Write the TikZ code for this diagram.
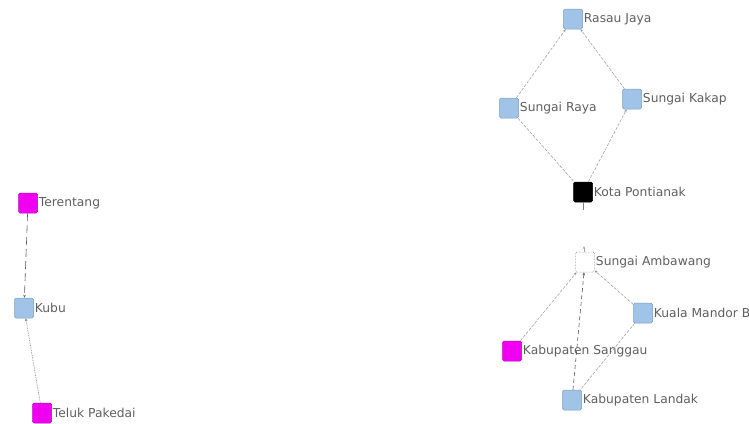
\documentclass[tikz,border=0pt]{standalone}
\usepackage{fontspec}
\setmainfont{DejaVu Sans}
\usetikzlibrary{arrows.meta}
\definecolor{nodeblue}{RGB}{160,196,232}
\definecolor{nodeedge}{RGB}{70,90,120}
\definecolor{nodemagenta}{RGB}{240,0,240}
\definecolor{labelgray}{RGB}{95,95,95}
\definecolor{linkgray}{RGB}{150,150,150}

\tikzset{
  town/.style={minimum width=19pt, minimum height=20pt, inner sep=0pt,
    rounded corners=1.5pt, fill=nodeblue, draw=nodeblue!60!nodeedge, line width=0.5pt},
  kab/.style={town, fill=nodemagenta, draw=nodemagenta!80!black},
  kota/.style={town, fill=black, draw=black},
  hidden/.style={town, fill=white, draw=gray, densely dotted},
  every label/.style={text=labelgray, font=\fontsize{12.3}{14}\selectfont, inner sep=1pt},
  link/.style={linkgray, line width=0.5pt, dash pattern=on 3pt off 1.5pt},
  tip/.style={-{Stealth[length=3pt,width=2.5pt]}}
}

\begin{document}
\begin{tikzpicture}[x=1pt, y=-1pt]
    % Frame
    \useasboundingbox (0,0) rectangle (749,423);

    % Left group
    \node[kab, label=right:Terentang] (terentang) at (28,203) {};
    \node[town, label=right:Kubu] (kubu) at (24,308) {};
    \node[kab, label=right:Teluk Pakedai] (teluk) at (42,413) {};

    % Upper right group
    \node[town, label=right:Rasau Jaya] (rasau) at (573,19) {};
    \node[town, label=right:Sungai Raya] (raya) at (509,108) {};
    \node[town, label=right:Sungai Kakap] (kakap) at (632,99) {};
    \node[kota, label=right:Kota Pontianak] (kota) at (583,192) {};

    % Lower right group
    \node[hidden, label=right:Sungai Ambawang] (ambawang) at (585,262) {};
    \node[town, label=right:Kuala Mandor B] (mandor) at (643,313) {};
    \node[kab, label=right:Kabupaten Sanggau] (sanggau) at (512,351) {};
    \node[town, label=right:Kabupaten Landak] (landak) at (572,400) {};

    % Stubs between the two right groups
    \coordinate (kotastub) at (583,210);
    \coordinate (ambstub) at (584,246);

    % Links
    \draw[tip, gray!70!black, line width=0.6pt, dash pattern=on 8pt off 4pt] (terentang) -- (kubu);
    \draw[tip, gray, line width=0.7pt, densely dotted] (teluk) -- (kubu);
    \draw[link, tip] (raya) -- (rasau);
    \draw[link, tip] (kakap) -- (rasau);
    \draw[link] (raya) -- (kota);
    \draw[link, tip] (kota) -- (kakap);
    \draw[gray, line width=0.5pt] (kota) -- (kotastub);
    \draw[tip, gray!70, line width=0.5pt] ([yshift=-6pt]ambstub) -- (ambstub);
    \draw[link, tip] (sanggau) -- (ambawang);
    \draw[link, tip] (mandor) -- (ambawang);
    \draw[tip, gray!70!black, line width=0.6pt, dash pattern=on 4pt off 3pt] (landak) -- (ambawang);
    \draw[link] (mandor) -- (landak);
\end{tikzpicture}
\end{document}
